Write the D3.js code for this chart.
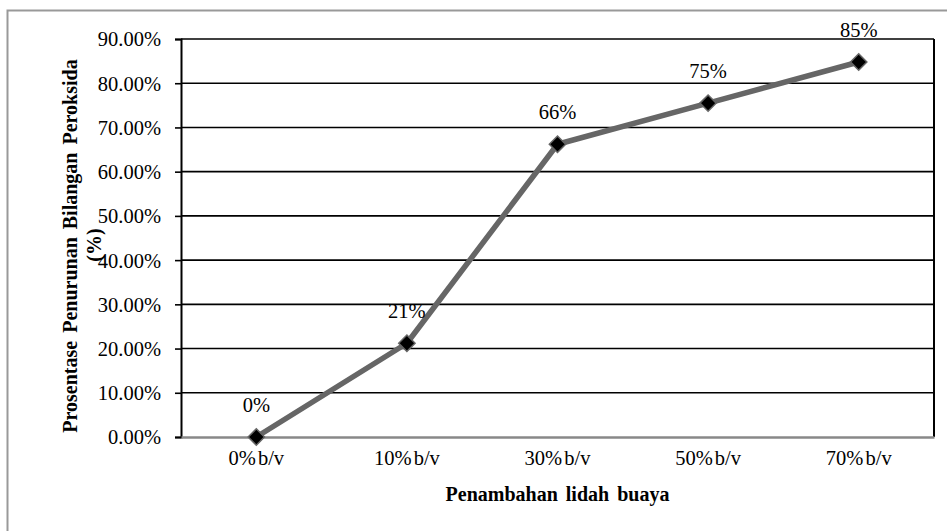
<!DOCTYPE html>
<html><head><meta charset="utf-8">
<script src="https://cdn.jsdelivr.net/npm/d3@7"></script>
<style>body{margin:0;background:#fff}svg{display:block}text{font-family:"Liberation Serif","Times New Roman",serif}</style>
</head><body><svg id="c" width="947" height="531"></svg>
<script>
const categories = ["0% b/v","10% b/v","30% b/v","50% b/v","70% b/v"];
const values = [0, 0.212, 0.662, 0.755, 0.848];
const valueLabels = ["0%","21%","66%","75%","85%"];
const yTicks = [0,0.1,0.2,0.3,0.4,0.5,0.6,0.7,0.8,0.9];
const yTitle = ["Prosentase Penurunan Bilangan Peroksida","(%)"];
const xTitle = "Penambahan lidah buaya";

const svg = d3.select("#c");
const m = {l:181, t:39, r:934, b:437};
const fs = 20.5, fb = 20;
svg.append("rect").attr("x",7.5).attr("y",10.5).attr("width",945).attr("height",530)
  .attr("fill","none").attr("stroke","#999").attr("stroke-width",2);

const x = d3.scaleBand().domain(categories).range([m.l,m.r]).paddingInner(0).paddingOuter(0);
const y = d3.scaleLinear().domain([0,0.9]).range([m.b,m.t]);

// gridlines
svg.append("g").selectAll("line").data(yTicks.filter(d=>d>0)).join("line")
  .attr("x1",m.l).attr("x2",m.r).attr("y1",d=>y(d)).attr("y2",d=>y(d))
  .attr("stroke","#000").attr("stroke-width",1.6);
// right border
svg.append("line").attr("x1",m.r).attr("x2",m.r).attr("y1",m.t).attr("y2",m.b).attr("stroke","#000").attr("stroke-width",2);

// y axis
const ya = svg.append("g").attr("transform",`translate(${m.l},0)`)
  .call(d3.axisLeft(y).tickValues(yTicks).tickFormat(d3.format(".2%")).tickSize(6).tickPadding(14));
ya.select(".domain").attr("stroke","#000").attr("stroke-width",2);
ya.selectAll(".tick line").attr("stroke","#000").attr("stroke-width",1.6);
ya.selectAll(".tick text").attr("font-size",fs).attr("fill","#000").attr("dy","0.34em");

// x axis
const xa = svg.append("g").attr("transform",`translate(0,${m.b})`)
  .call(d3.axisBottom(x).tickSize(0).tickPadding(13));
xa.select(".domain").attr("stroke","#888").attr("stroke-width",2.5);
xa.selectAll(".tick text").attr("font-size",fs).attr("fill","#000").attr("word-spacing","-3px");

const cx = d => x(d) + x.bandwidth()/2;
const pts = categories.map((c,i)=>[cx(c), y(values[i])]);

svg.append("path").attr("d", d3.line()(pts)).attr("fill","none")
  .attr("stroke","#666").attr("stroke-width",5.5).attr("stroke-linejoin","round");

svg.append("g").selectAll("path").data(pts).join("path")
  .attr("transform",d=>`translate(${d[0]},${d[1]})`)
  .attr("d", d3.symbol(d3.symbolDiamond2, 170)())
  .attr("fill","#000").attr("stroke","#666").attr("stroke-width",1.5);

svg.append("g").selectAll("text").data(pts).join("text")
  .attr("x",d=>d[0]).attr("y",d=>d[1]-25).attr("text-anchor","middle")
  .attr("font-size",fs).attr("fill","#000").text((d,i)=>valueLabels[i]);

// titles
svg.append("text").attr("transform","translate(77,246) rotate(-90)").attr("text-anchor","middle")
  .attr("font-size",fb).attr("font-weight","bold").attr("word-spacing","3px").text(yTitle[0]);
svg.append("text").attr("transform","translate(101,245) rotate(-90)").attr("text-anchor","middle")
  .attr("font-size",fb).attr("font-weight","bold").text(yTitle[1]);
svg.append("text").attr("x",(m.l+m.r)/2).attr("y",501).attr("text-anchor","middle")
  .attr("font-size",fb).attr("font-weight","bold").attr("word-spacing","3px").text(xTitle);
</script></body></html>
